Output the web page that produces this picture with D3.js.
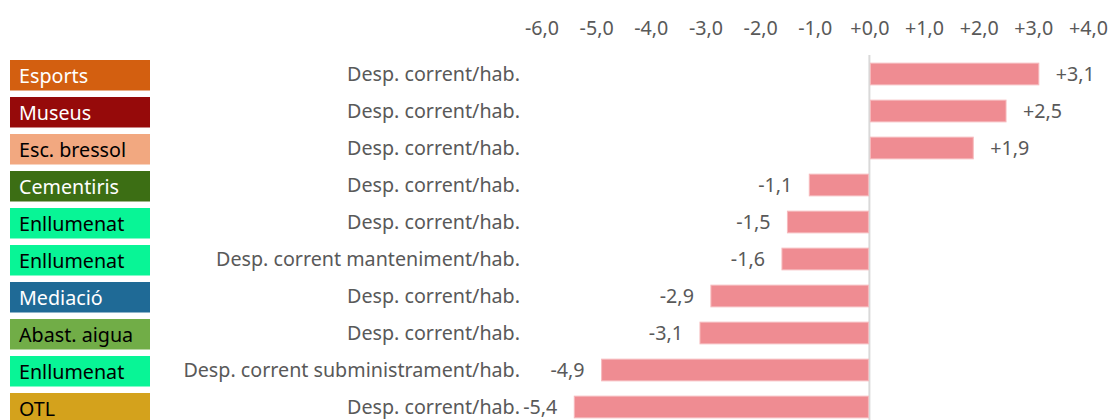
<!DOCTYPE html>
<html>
<head>
<meta charset="utf-8">
<script src="https://cdn.jsdelivr.net/npm/d3@7"></script>
<style>
  body { margin: 0; background: #fff; }
  #chart { width: 1111px; height: 420px; overflow: hidden; }
  text { font-family: "Noto Sans", "Open Sans", sans-serif; }
</style>
</head>
<body>
<div id="chart"></div>
<script>
const services = ['Esports', 'Museus', 'Esc. bressol', 'Cementiris', 'Enllumenat', 'Enllumenat',
    'Mediació', 'Abast. aigua', 'Enllumenat', 'OTL'];
const indicators = ['Desp. corrent/hab.', 'Desp. corrent/hab.', 'Desp. corrent/hab.', 'Desp. corrent/hab.',
    'Desp. corrent/hab.', 'Desp. corrent manteniment/hab.', 'Desp. corrent/hab.', 'Desp. corrent/hab.',
    'Desp. corrent subministrament/hab.', 'Desp. corrent/hab.'];
const values = [3.1, 2.5, 1.9, -1.1, -1.5, -1.6, -2.9, -3.1, -4.9, -5.4];
const tickValues = [-6, -5, -4, -3, -2, -1, 0, 1, 2, 3, 4];

const serviceColors = {
    'Esports': '#d35f10',
    'Museus': '#960a0a',
    'Esc. bressol': '#f2a880',
    'Cementiris': '#3c6e14',
    'Enllumenat': '#08f596',
    'Mediació': '#1f6a96',
    'Abast. aigua': '#71ad47',
    'OTL': '#d4a21c'
};
const darkText = new Set(['Esc. bressol', 'Enllumenat', 'Abast. aigua', 'OTL']);

const width = 1111, height = 420;
const fontSize = '19.7px';
const locale = d3.formatLocale({ decimal: ',', thousands: '.', grouping: [3], currency: ['', '€'], minus: '-' });
const fmt = locale.format('+.1f');

const x = d3.scaleLinear().domain([-6, 4]).range([541.5, 1088]);
const y = d3.scaleBand().domain(d3.range(values.length))
    .range([55.5, 425.5]).paddingInner(0.414).paddingOuter(0.207);

const svg = d3.select('#chart').append('svg')
    .attr('width', width)
    .attr('height', height);

// top axis, labels only
const axis = svg.append('g')
    .attr('transform', 'translate(0,35)')
    .call(d3.axisTop(x).tickValues(tickValues).tickFormat(fmt).tickSize(0).tickPadding(0));
axis.select('.domain').remove();
axis.selectAll('text')
    .attr('fill', '#595959')
    .style('font-size', fontSize)
    .style('font-family', '"Noto Sans", "Open Sans", sans-serif');

// zero line
svg.append('line')
    .attr('x1', x(0)).attr('x2', x(0))
    .attr('y1', 55).attr('y2', height)
    .attr('stroke', '#d9d9d9')
    .attr('stroke-width', 2);

const rows = svg.selectAll('.row')
    .data(values.map((v, i) => ({ v, i, service: services[i], ind: indicators[i] })))
    .enter().append('g')
    .attr('class', 'row');

rows.append('rect')
    .attr('x', d => Math.min(x(0), x(d.v)) + (d.v > 0 ? 1 : 0))
    .attr('y', d => y(d.i))
    .attr('width', d => Math.abs(x(d.v) - x(0)) - 1)
    .attr('height', y.bandwidth())
    .attr('fill', '#ef8c92')
    .attr('stroke', '#f6b9bc')
    .attr('stroke-width', 1);

rows.append('text')
    .attr('x', d => d.v > 0 ? x(d.v) + 17 : x(d.v) - 17)
    .attr('y', d => y(d.i) + y.bandwidth() / 2)
    .attr('dy', '0.35em')
    .attr('text-anchor', d => d.v > 0 ? 'start' : 'end')
    .attr('fill', '#595959')
    .style('font-size', fontSize)
    .text(d => fmt(d.v));

rows.append('text')
    .attr('x', 520)
    .attr('y', d => y(d.i) + y.bandwidth() / 2)
    .attr('dy', '0.35em')
    .attr('text-anchor', 'end')
    .attr('fill', '#595959')
    .style('font-size', fontSize)
    .text(d => d.ind);

rows.append('rect')
    .attr('x', 10)
    .attr('y', d => y(d.i) + y.bandwidth() / 2 - 14)
    .attr('width', 140)
    .attr('height', 30.5)
    .attr('fill', d => serviceColors[d.service]);

rows.append('text')
    .attr('x', 19)
    .attr('y', d => y(d.i) + y.bandwidth() / 2 + 2)
    .attr('dy', '0.35em')
    .attr('fill', d => darkText.has(d.service) ? '#000' : '#fff')
    .style('font-size', fontSize)
    .text(d => d.service);
</script>
</body>
</html>
